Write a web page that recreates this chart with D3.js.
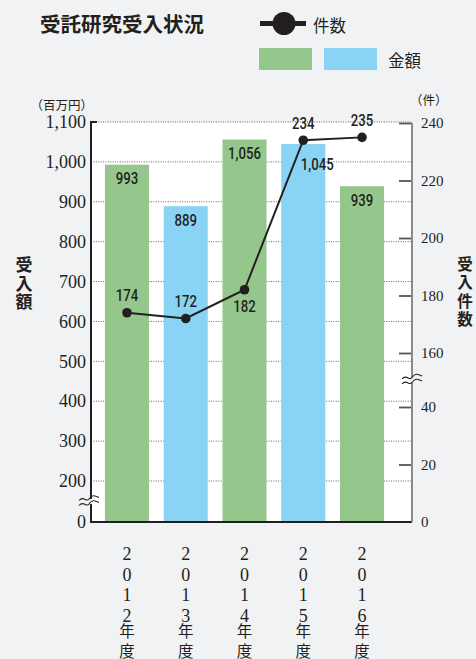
<!DOCTYPE html>
<html><head><meta charset="utf-8">
<script src="https://cdn.jsdelivr.net/npm/d3@7"></script>
<style>
html,body{margin:0;padding:0;background:#f1f2f4;}
svg{display:block;}
.vt{writing-mode:vertical-rl;text-orientation:upright;}
</style></head><body>
<svg id="c" width="476" height="659"></svg>
<script>
// ---- data ----
const years = ["2012", "2013", "2014", "2015", "2016"];
const amounts = [993, 889, 1056, 1045, 939];      // 金額 (百万円)
const counts = [174, 172, 182, 234, 235];          // 件数
const leftTicks = [0, 200, 300, 400, 500, 600, 700, 800, 900, 1000, 1100];
const gridValues = [200, 300, 400, 500, 600, 700, 800, 900, 1000, 1100];
const rightTicks = [0, 20, 40, 160, 180, 200, 220, 240];
const yearSuffix = ["年", "度"];
const titleText = "受託研究受入状況";
const leftTitle = "受入額";
const rightTitle = "受入件数";
const leftUnit = "（百万円）";
const rightUnit = "（件）";
const legendLine = "件数";
const legendBars = "金額";

// ---- style ----
const BG = "#f1f2f4", GREEN = "#95c78d", BLUE = "#89d4f5", DARK = "#231f20";
const barPalette = [GREEN, BLUE];
const SERIF = "'Liberation Serif','Times New Roman',serif";
const CJK = "'Noto Sans CJK JP','Noto Sans CJK SC',sans-serif";
const NUM = "Roboto,'Liberation Sans',sans-serif";

const svg = d3.select("#c");
svg.append("rect").attr("width", 476).attr("height", 659).attr("fill", BG);

const L = 91, R = 412, B = 522;
const x = d3.scaleBand().domain(years).range([97.6, 391.4]).paddingInner(0.25).paddingOuter(0.125);
const yL = d3.scaleLinear().domain([0, 200, 1100]).range([B, 481, 122]);
const yR = d3.scaleLinear().domain([0, 40, 160, 240]).range([B, 407, 353, 123]);
const cx = d => x(d) + x.bandwidth() / 2;

// plot background
svg.append("rect").attr("x", L).attr("y", yL(1100)).attr("width", R - L).attr("height", B - yL(1100)).attr("fill", "#fff");

// grid
svg.append("g").selectAll("line").data(gridValues).join("line")
  .attr("x1", L).attr("x2", R).attr("y1", d => yL(d)).attr("y2", d => yL(d))
  .attr("stroke", "#555").attr("stroke-width", 0.9).attr("stroke-dasharray", "1,1.4");

// bars
svg.append("g").selectAll("rect").data(amounts).join("rect")
  .attr("x", (d, i) => x(years[i])).attr("width", x.bandwidth())
  .attr("y", d => yL(d)).attr("height", d => B - yL(d))
  .attr("fill", (d, i) => barPalette[i % 2]);

// left axis
const gl = svg.append("g").attr("transform", `translate(${L},0)`)
  .call(d3.axisLeft(yL).tickValues(leftTicks).tickSize(0).tickPadding(5).tickFormat(d3.format(",")));
gl.select(".domain").remove();
gl.selectAll("text").attr("font-family", SERIF).attr("font-size", 18).attr("fill", DARK);

// right axis
const gr = svg.append("g").attr("transform", `translate(${R},0)`)
  .call(d3.axisRight(yR).tickValues(rightTicks).tickSizeInner(-13).tickSizeOuter(0).tickPadding(9));
gr.select(".domain").remove();
gr.selectAll("line").attr("stroke", "#555").attr("stroke-width", 1.8).filter(d => d === 0).remove();
gr.selectAll("text").attr("font-family", SERIF).attr("font-size", 15).attr("fill", DARK);

// axis lines
svg.append("path").attr("d", `M${L + 6},${yL(1100)}H${L}V${B}H${R}`)
  .attr("fill", "none").attr("stroke", DARK).attr("stroke-width", 2);
svg.append("path").attr("d", `M${R},${yR(240)}V${B}`)
  .attr("fill", "none").attr("stroke", "#8a8a8a").attr("stroke-width", 2);

// break marks
function breakMark(xc, yc, w) {
  const g = svg.append("g");
  const wave = (dy) => `M${xc - w / 2},${yc + dy + 1.5} C${xc - w / 4},${yc + dy - 4} ${xc - w / 4 + 2},${yc + dy + 4} ${xc},${yc + dy} S${xc + w / 4},${yc + dy - 4} ${xc + w / 2},${yc + dy - 1.5}`;
  g.append("rect").attr("x", xc - 3).attr("y", yc - 2.5).attr("width", 6).attr("height", 5).attr("fill", BG);
  g.append("path").attr("d", wave(-2.5)).attr("fill", "none").attr("stroke", DARK).attr("stroke-width", 1.1);
  g.append("path").attr("d", wave(2.5)).attr("fill", "none").attr("stroke", DARK).attr("stroke-width", 1.1);
}
breakMark(L - 2, yL(100), 20);
breakMark(R, (yR(40) + yR(160)) / 2, 20);

// line series
svg.append("path").datum(counts)
  .attr("d", d3.line().x((d, i) => cx(years[i])).y(d => yR(d)))
  .attr("fill", "none").attr("stroke", DARK).attr("stroke-width", 2);
svg.append("g").selectAll("circle").data(counts).join("circle")
  .attr("cx", (d, i) => cx(years[i])).attr("cy", d => yR(d)).attr("r", 4.8).attr("fill", DARK);

// numeric label helper (condensed)
function numLabel(xp, yp, txt) {
  svg.append("text").attr("transform", `translate(${xp},${yp}) scale(0.8,1)`)
    .attr("text-anchor", "middle").attr("dominant-baseline", "central")
    .attr("font-family", NUM).attr("font-weight", 500).attr("font-size", 16.5)
    .attr("fill", DARK).text(txt);
}
// bar value labels (moved below/right of the line marker when they would collide)
amounts.forEach((v, i) => {
  let ly = yL(v) + 14, lx = cx(years[i]);
  const dy = yR(counts[i]);
  if (Math.abs(ly - dy) < 22) { ly = dy + 24; lx += 14; }
  numLabel(lx, ly, d3.format(",")(v));
});
// count labels
counts.forEach((v, i) => {
  const below = i < counts.length - 1 && counts[i + 1] - v > 20;
  numLabel(cx(years[i]), yR(v) + (below ? 17 : -17), v);
});

// units
svg.append("text").attr("x", 93).attr("y", 104.5).attr("text-anchor", "end").attr("dominant-baseline", "central")
  .attr("font-family", CJK).attr("font-size", 12.5).attr("fill", DARK).text(leftUnit);
svg.append("text").attr("x", 410).attr("y", 99).attr("dominant-baseline", "central")
  .attr("font-family", CJK).attr("font-size", 12.5).attr("fill", DARK).text(rightUnit);

// vertical text helper (top = first glyph top edge)
function vText(str, xc, top, size, spacing, family, weight) {
  return svg.append("text").attr("class", "vt").attr("x", xc).attr("y", top)
    .attr("font-family", family).attr("font-weight", weight).attr("font-size", size)
    .attr("letter-spacing", spacing).attr("fill", DARK).text(str);
}
vText(leftTitle, 24, 256.5, 17, 1.5, CJK, 700);
vText(rightTitle, 465, 256, 15.5, 3, CJK, 700);

// x labels (vertical)
years.forEach(yr => {
  vText(yr, cx(yr), 544, 18, 0.6, SERIF, 400);
  yearSuffix.forEach((ch, k) => vText(ch, cx(yr), 623.5 + k * 19.8, 15.5, 0, CJK, 400));
});

// title
svg.append("text").attr("x", 40).attr("y", 23).attr("dominant-baseline", "central")
  .attr("font-family", CJK).attr("font-weight", 700).attr("font-size", 20.5).attr("fill", DARK).text(titleText);

// legend
svg.append("line").attr("x1", 260).attr("x2", 306).attr("y1", 23.5).attr("y2", 23.5).attr("stroke", DARK).attr("stroke-width", 5);
svg.append("circle").attr("cx", 284).attr("cy", 23.5).attr("r", 11.5).attr("fill", DARK);
svg.append("text").attr("x", 313).attr("y", 25).attr("dominant-baseline", "central")
  .attr("font-family", CJK).attr("font-size", 16.5).attr("fill", DARK).text(legendLine);
svg.append("rect").attr("x", 259).attr("y", 48).attr("width", 53).attr("height", 22).attr("fill", GREEN);
svg.append("rect").attr("x", 324).attr("y", 48).attr("width", 53).attr("height", 22).attr("fill", BLUE);
svg.append("text").attr("x", 388).attr("y", 60).attr("dominant-baseline", "central")
  .attr("font-family", CJK).attr("font-size", 16.5).attr("fill", DARK).text(legendBars);
</script>
</body></html>
